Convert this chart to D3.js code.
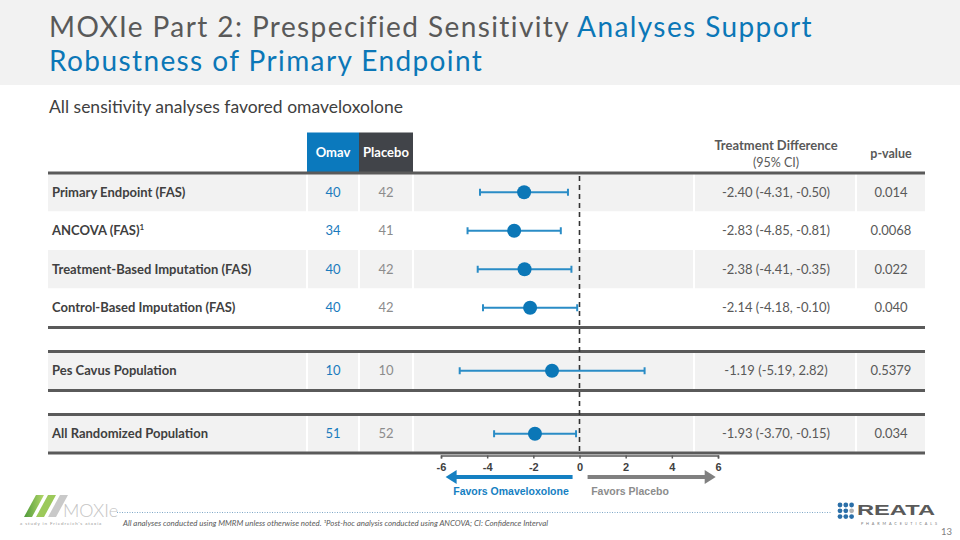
<!DOCTYPE html>
<html>
<head>
<meta charset="utf-8">
<script src="https://cdn.jsdelivr.net/npm/d3@7"></script>
<style>
  html, body { margin: 0; padding: 0; background: #fff; }
  svg { display: block; }
</style>
</head>
<body>
<svg id="chart" width="960" height="540"></svg>
<script>
// ---------------- DATA ----------------
const analyses = ["Primary Endpoint (FAS)", "ANCOVA (FAS)", "Treatment-Based Imputation (FAS)",
                  "Control-Based Imputation (FAS)", "Pes Cavus Population", "All Randomized Population"];
const superscripts = ["", "1", "", "", "", ""];
const omavN = [40, 34, 40, 40, 10, 51];
const placeboN = [42, 41, 42, 42, 10, 52];
const estimates = [-2.40, -2.83, -2.38, -2.14, -1.19, -1.93];
const ciLower = [-4.31, -4.85, -4.41, -4.18, -5.19, -3.70];
const ciUpper = [-0.50, -0.81, -0.35, -0.10, 2.82, -0.15];
const pValues = ["0.014", "0.0068", "0.022", "0.040", "0.5379", "0.034"];
const axisTicks = [-6, -4, -2, 0, 2, 4, 6];

// ---------------- LAYOUT ----------------
const svg = d3.select("#chart");
const BLUE = "#0b77b7", DARK = "#404040", GRAY_TXT = "#595959";
const tableX0 = 48, tableX1 = 925;
const colBounds = [48, 307, 359, 413, 694, 856, 925];
const rowTops = [173, 211.5, 250, 288.5, 351.5, 414.5];
const rowH = 38.5;
const rowFill = ["#f2f2f2", "#ffffff", "#f2f2f2", "#ffffff", "#f2f2f2", "#f2f2f2"];
const sans = "Lato, 'Open Sans', sans-serif";

// title band
svg.append("rect").attr("x", 0).attr("y", 0).attr("width", 960).attr("height", 85).attr("fill", "#f2f2f2");
const titleFs = 28;
const title1 = svg.append("text").attr("font-family", sans).attr("font-size", titleFs).attr("x", 49).attr("y", 37);
title1.append("tspan").attr("fill", "#595959").text("MOXIe Part 2: Prespecified Sensitivity ");
title1.append("tspan").attr("fill", BLUE).text("Analyses Support");
const title2 = svg.append("text").attr("font-family", sans).attr("font-size", titleFs).attr("x", 49).attr("y", 71)
  .attr("fill", BLUE).text("Robustness of Primary Endpoint");
// widen letter spacing a little so line 1 matches the reference width
(function(){
  const w = title1.node().getComputedTextLength();
  const n = title1.text().length;
  const ls = Math.max(0, (764 - w) / n);
  title1.attr("letter-spacing", ls);
  title2.attr("letter-spacing", ls);
})();

svg.append("text").attr("x", 49).attr("y", 113).attr("font-family", sans).attr("font-size", 17.5)
  .attr("fill", DARK).text("All sensitivity analyses favored omaveloxolone");

// header cells
svg.append("rect").attr("x", 307).attr("y", 132.5).attr("width", 52).attr("height", 40.5).attr("fill", "#0b79bd");
svg.append("rect").attr("x", 359).attr("y", 132.5).attr("width", 54).attr("height", 40.5).attr("fill", "#414449");
svg.append("text").attr("x", 333).attr("y", 157).attr("text-anchor", "middle").attr("font-family", sans)
  .attr("font-weight", "bold").attr("font-size", 13).attr("fill", "#fff").text("Omav");
svg.append("text").attr("x", 386).attr("y", 157).attr("text-anchor", "middle").attr("font-family", sans)
  .attr("font-weight", "bold").attr("font-size", 13).attr("fill", "#fff").text("Placebo");
svg.append("text").attr("x", 776).attr("y", 150).attr("text-anchor", "middle").attr("font-family", sans)
  .attr("font-weight", "bold").attr("font-size", 13).attr("fill", GRAY_TXT).text("Treatment Difference");
svg.append("text").attr("x", 776).attr("y", 166.5).attr("text-anchor", "middle").attr("font-family", sans)
  .attr("font-size", 12.5).attr("fill", GRAY_TXT).text("(95% CI)");
svg.append("text").attr("x", 891).attr("y", 158).attr("text-anchor", "middle").attr("font-family", sans)
  .attr("font-weight", "bold").attr("font-size", 12.5).attr("fill", GRAY_TXT).text("p-value");

// rows
const rows = analyses.map((name, i) => ({
  name, sup: superscripts[i], omav: omavN[i], plac: placeboN[i],
  est: estimates[i], lo: ciLower[i], hi: ciUpper[i], p: pValues[i],
  top: rowTops[i], fill: rowFill[i]
}));

const rg = svg.append("g").selectAll("g").data(rows).join("g");
rg.append("rect").attr("x", tableX0).attr("y", d => d.top).attr("width", tableX1 - tableX0)
  .attr("height", rowH).attr("fill", d => d.fill);
// white column dividers
rg.each(function(d){
  const g = d3.select(this);
  colBounds.slice(1, -1).forEach(x => {
    g.append("line").attr("x1", x).attr("x2", x).attr("y1", d.top).attr("y2", d.top + rowH)
      .attr("stroke", "#fff").attr("stroke-width", 2);
  });
});
const label = rg.append("text").attr("x", 52).attr("y", d => d.top + rowH / 2 + 4.5)
  .attr("font-family", sans).attr("font-weight", "bold").attr("font-size", 13).attr("fill", DARK);
label.append("tspan").text(d => d.name);
label.append("tspan").attr("font-size", 8).attr("dy", -5).text(d => d.sup);
rg.append("text").attr("x", 333).attr("y", d => d.top + rowH / 2 + 4.5).attr("text-anchor", "middle")
  .attr("font-family", sans).attr("font-size", 13).attr("fill", "#1a7bbd").text(d => d.omav);
rg.append("text").attr("x", 386).attr("y", d => d.top + rowH / 2 + 4.5).attr("text-anchor", "middle")
  .attr("font-family", sans).attr("font-size", 13).attr("fill", "#8c8c8c").text(d => d.plac);
rg.append("text").attr("x", 776).attr("y", d => d.top + rowH / 2 + 4.5).attr("text-anchor", "middle")
  .attr("font-family", sans).attr("font-size", 13).attr("fill", GRAY_TXT)
  .text(d => `${d.est.toFixed(2)} (${d.lo.toFixed(2)}, ${d.hi.toFixed(2)})`);
rg.append("text").attr("x", 891).attr("y", d => d.top + rowH / 2 + 4.5).attr("text-anchor", "middle")
  .attr("font-family", sans).attr("font-size", 13).attr("fill", GRAY_TXT).text(d => d.p);

// thick lines
[173, 327.5, 351.5, 390.5, 414.5, 453].forEach(y => {
  svg.append("line").attr("x1", tableX0).attr("x2", tableX1).attr("y1", y).attr("y2", y)
    .attr("stroke", "#5a5a5a").attr("stroke-width", 3);
});

// forest scale & axis
const x = d3.scaleLinear().domain([-6, 6]).range([441, 718]);
svg.append("line").attr("x1", x(0)).attr("x2", x(0)).attr("y1", 176).attr("y2", 452)
  .attr("stroke", "#333").attr("stroke-width", 1.6).attr("stroke-dasharray", "5,4");

const fg = svg.append("g").selectAll("g").data(rows).join("g");
const cy = d => d.top + rowH / 2;
fg.append("line").attr("x1", d => x(d.lo)).attr("x2", d => x(d.hi)).attr("y1", cy).attr("y2", cy)
  .attr("stroke", "#2a8cc6").attr("stroke-width", 2);
fg.append("line").attr("x1", d => x(d.lo)).attr("x2", d => x(d.lo)).attr("y1", d => cy(d) - 3.5).attr("y2", d => cy(d) + 3.5)
  .attr("stroke", "#2a8cc6").attr("stroke-width", 2);
fg.append("line").attr("x1", d => x(d.hi)).attr("x2", d => x(d.hi)).attr("y1", d => cy(d) - 3.5).attr("y2", d => cy(d) + 3.5)
  .attr("stroke", "#2a8cc6").attr("stroke-width", 2);
fg.append("circle").attr("cx", d => x(d.est)).attr("cy", cy).attr("r", 7).attr("fill", BLUE);

const axis = d3.axisBottom(x).tickValues(axisTicks).tickSize(3).tickSizeOuter(3).tickPadding(6)
  .tickFormat(d => String(d));
const ax = svg.append("g").attr("transform", "translate(0,455.5)").call(axis);
ax.select(".domain").attr("stroke", "#595959").attr("stroke-width", 1.5);
ax.selectAll(".tick line").attr("stroke", "#595959").attr("stroke-width", 1.5);
ax.selectAll(".tick text").attr("font-family", "'Liberation Sans', Arial, sans-serif")
  .attr("font-weight", "bold").attr("font-size", 11).attr("fill", DARK).attr("dy", "0.6em");

// direction arrows
const defs = svg.append("defs");
const arrowY = 477;
function arrow(x1, x2, color) {
  const dir = Math.sign(x2 - x1);
  const headLen = 11;
  svg.append("line").attr("x1", x1).attr("x2", x2 - dir * headLen + dir).attr("y1", arrowY).attr("y2", arrowY)
    .attr("stroke", color).attr("stroke-width", 4);
  svg.append("path").attr("d", `M${x2},${arrowY} L${x2 - dir * headLen},${arrowY - 7} L${x2 - dir * headLen},${arrowY + 7} Z`)
    .attr("fill", color);
}
arrow(x(-0.3), x(-5.8), "#1580c2");
arrow(x(0.35), x(5.9), "#808080");
svg.append("text").attr("x", 511).attr("y", 495).attr("text-anchor", "middle")
  .attr("font-family", "'Liberation Sans', Arial, sans-serif").attr("font-weight", "bold").attr("font-size", 10.5)
  .attr("fill", "#1580c2").text("Favors Omaveloxolone");
svg.append("text").attr("x", 630).attr("y", 495).attr("text-anchor", "middle")
  .attr("font-family", "'Liberation Sans', Arial, sans-serif").attr("font-weight", "bold").attr("font-size", 10.5)
  .attr("fill", "#8c8c8c").text("Favors Placebo");

// footer
svg.append("line").attr("x1", 117).attr("x2", 832).attr("y1", 512.5).attr("y2", 512.5)
  .attr("stroke", "#7fa9c9").attr("stroke-width", 1).attr("stroke-dasharray", "1,1.5");
svg.append("text").attr("x", 123).attr("y", 526).attr("font-family", sans).attr("font-style", "italic")
  .attr("font-size", 7.2).attr("fill", "#595959").attr("textLength", 425).attr("lengthAdjust", "spacingAndGlyphs")
  .text("All analyses conducted using MMRM unless otherwise noted.  \u00B9Post-hoc analysis conducted using ANCOVA; CI: Confidence Interval");

// MOXIe logo
const grad = defs.append("linearGradient").attr("id", "g1").attr("x1", "0").attr("x2", "1");
grad.append("stop").attr("offset", "0").attr("stop-color", "#4f9a3a");
grad.append("stop").attr("offset", "1").attr("stop-color", "#b5d86a");
[[24, "url(#g1)"], [36, "#9cc95a"], [48, "#c9c9c9"]].forEach(([bx, c]) => {
  svg.append("path").attr("d", `M${bx},517 L${bx + 12},495 L${bx + 20},495 L${bx + 8},517 Z`).attr("fill", c);
});
svg.append("text").attr("x", 63).attr("y", 517).attr("font-family", sans).attr("font-size", 18)
  .attr("font-weight", 300).attr("fill", "#c4c4c4").text("MOXIe");
svg.append("text").attr("x", 20).attr("y", 525).attr("font-family", sans).attr("font-size", 4.5)
  .attr("fill", "#9a9a9a").attr("letter-spacing", 0.9).text("a study in Friedreich's ataxia");

// REATA logo
for (let r = 0; r < 3; r++) for (let c = 0; c < 3; c++) {
  svg.append("circle").attr("cx", 840 + c * 5.8).attr("cy", 505 + r * 5.8).attr("r", 2.4)
    .attr("fill", (r === 1 && c === 2) ? "#b0b0b0" : "#2b6fa8");
}
svg.append("text").attr("x", 857).attr("y", 515).attr("font-family", "'Liberation Sans', Arial, sans-serif")
  .attr("font-weight", "bold").attr("font-size", 15).attr("fill", "#5a5a5a").attr("textLength", 78)
  .attr("lengthAdjust", "spacingAndGlyphs").text("REATA");
svg.append("text").attr("x", 861).attr("y", 525).attr("font-family", sans).attr("font-size", 3.8)
  .attr("fill", "#777").attr("textLength", 76).text("PHARMACEUTICALS");
svg.append("text").attr("x", 952).attr("y", 535).attr("text-anchor", "end").attr("font-family", sans)
  .attr("font-size", 9.5).attr("fill", "#7f7f7f").text("13");
</script>
</body>
</html>
